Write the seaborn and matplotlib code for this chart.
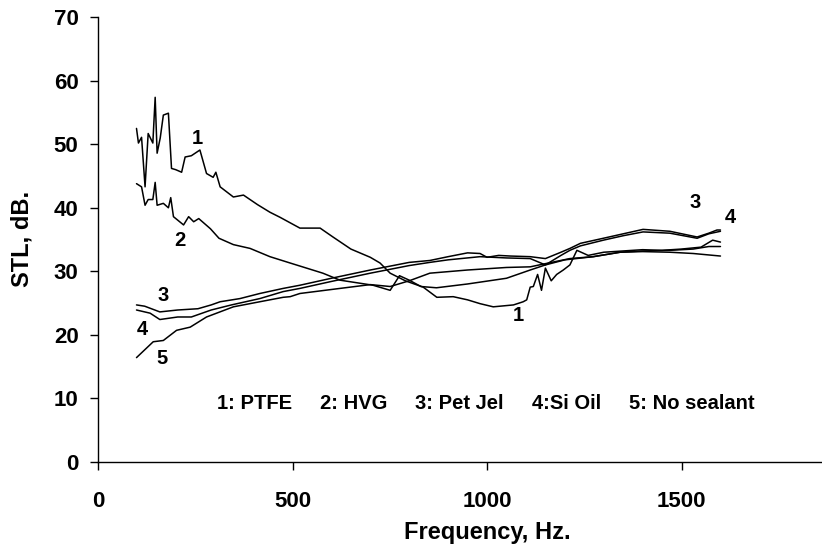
import pandas as pd
import matplotlib
matplotlib.use("Agg")
import matplotlib.pyplot as plt
import seaborn as sns

# curve data (frequency in Hz, STL in dB)
f1 = [99, 104, 112, 121, 129, 141, 147, 152, 160, 168, 181, 189, 200, 215, 224, 240, 262, 279, 296, 303,
      314, 348, 374, 410, 442, 468, 519, 571, 578, 604, 650, 700, 725, 751, 790, 836, 871, 913, 950, 982,
      1016, 1068, 1093, 1102, 1111, 1119, 1130, 1140, 1150, 1165, 1179, 1196, 1213, 1231, 1260, 1300,
      1350, 1400, 1450, 1500, 1550, 1580, 1600]
stl1 = [52.5, 50.2, 51.1, 43.3, 51.7, 50.2, 57.4, 48.6, 51.0, 54.6, 54.9, 46.2, 46.0, 45.6, 48.0, 48.2,
        49.1, 45.4, 44.8, 45.6, 43.3, 41.7, 42.0, 40.5, 39.3, 38.5, 36.8, 36.8, 36.5, 35.4, 33.5, 32.2,
        31.3, 29.7, 28.5, 27.5, 25.9, 26.0, 25.5, 24.9, 24.4, 24.7, 25.2, 25.5, 27.5, 27.6, 29.5, 27.0,
        30.5, 28.5, 29.5, 30.2, 31.0, 33.3, 32.5, 33.0, 33.2, 33.4, 33.3, 33.5, 33.8, 34.9, 34.6]

f2 = [99, 112, 121, 129, 141, 147, 152, 168, 181, 187, 194, 220, 233, 246, 259, 289, 311, 348, 391, 442,
      494, 578, 622, 707, 751, 775, 800, 830, 870, 950, 1050, 1111, 1150, 1200, 1273, 1342, 1400, 1470,
      1530, 1570, 1600]
stl2 = [43.8, 43.3, 40.4, 41.3, 41.3, 44.0, 40.4, 40.7, 40.0, 41.6, 38.6, 37.3, 38.6, 37.8, 38.3, 36.7,
        35.2, 34.2, 33.6, 32.3, 31.3, 29.7, 28.6, 27.8, 27.0, 29.3, 28.6, 27.6, 27.4, 28.0, 28.9, 30.2,
        31.0, 31.8, 32.3, 33.0, 33.2, 33.3, 33.5, 33.9, 33.9]

f3 = [99, 120, 159, 205, 257, 291, 314, 365, 416, 476, 519, 600, 700, 800, 853, 900, 950, 982, 1000,
      1030, 1060, 1111, 1150, 1190, 1213, 1240, 1299, 1350, 1401, 1470, 1540, 1570, 1591, 1600]
stl3 = [24.7, 24.5, 23.6, 23.9, 24.1, 24.7, 25.2, 25.7, 26.5, 27.3, 27.8, 28.9, 30.2, 31.4, 31.7, 32.3,
        32.9, 32.8, 32.2, 32.5, 32.4, 32.3, 32.0, 33.0, 33.6, 34.4, 35.2, 35.9, 36.6, 36.3, 35.4, 36.0,
        36.5, 36.5]

f4 = [99, 134, 159, 205, 240, 291, 343, 416, 476, 519, 600, 700, 800, 853, 900, 982, 1050, 1111, 1150,
      1190, 1213, 1240, 1299, 1350, 1401, 1470, 1540, 1570, 1600]
stl4 = [23.9, 23.4, 22.4, 22.8, 22.8, 23.9, 24.7, 25.7, 26.8, 27.3, 28.4, 29.7, 30.9, 31.4, 31.8, 32.3,
        32.1, 32.0, 31.0, 32.5, 33.3, 34.0, 34.9, 35.6, 36.2, 36.0, 35.2, 35.9, 36.3]

f5 = [99, 142, 168, 202, 237, 279, 348, 416, 476, 494, 519, 622, 700, 751, 800, 853, 950, 1050, 1111,
      1150, 1213, 1273, 1342, 1400, 1470, 1530, 1600]
stl5 = [16.4, 18.9, 19.1, 20.7, 21.2, 22.8, 24.4, 25.2, 25.9, 26.0, 26.5, 27.3, 27.9, 27.6, 28.5, 29.7,
        30.2, 30.6, 30.7, 31.2, 32.0, 32.3, 33.0, 33.1, 33.0, 32.8, 32.4]

legend_items = ["1: PTFE", "2: HVG", "3: Pet Jel", "4:Si Oil", "5: No sealant"]
legend_x = [306, 571, 815, 1116, 1365]

sns.set_style("ticks")
plt.rcParams['font.family'] = ['Liberation Sans', 'DejaVu Sans']
plt.rcParams['font.weight'] = 'bold'
plt.rcParams['text.color'] = 'black'
plt.rcParams['axes.labelcolor'] = 'black'
plt.rcParams['xtick.color'] = 'black'
plt.rcParams['ytick.color'] = 'black'

fig = plt.figure(figsize=(8.22, 5.59), dpi=100)
ax = fig.add_axes([0.1192, 0.174, 0.8808, 0.795])

for f, s in [(f1, stl1), (f2, stl2), (f3, stl3), (f4, stl4), (f5, stl5)]:
    sns.lineplot(x=f, y=s, ax=ax, color='black', linewidth=1.1, sort=False, estimator=None)

ax.set_xlim(0, 1861)
ax.set_ylim(0, 70)
ax.set_xticks([0, 500, 1000, 1500])
ax.set_yticks(range(0, 71, 10))
sns.despine(ax=ax)
ax.tick_params(axis='both', direction='out', length=6, width=1, colors='black', labelsize=16)
ax.tick_params(axis='x', pad=15)
ax.tick_params(axis='y', pad=8)
for lab in ax.get_xticklabels() + ax.get_yticklabels():
    lab.set_fontweight('bold')
for sp in ['left', 'bottom']:
    ax.spines[sp].set_linewidth(1)
    ax.spines[sp].set_color('black')

# curve numbers
tk = dict(fontsize=14.5, fontweight='bold', ha='center', va='center')
ax.text(255, 50.9, "1", **tk)
ax.text(211, 34.8, "2", **tk)
ax.text(168, 26.2, "3", **tk)
ax.text(115, 20.9, "4", **tk)
ax.text(164, 16.2, "5", **tk)
ax.text(1080, 23.1, "1", **tk)
ax.text(1535, 40.8, "3", **tk)
ax.text(1626, 38.5, "4", **tk)

for lx, lab in zip(legend_x, legend_items):
    ax.text(lx, 9.2, lab, fontsize=14.5, fontweight='bold', ha='left', va='center')

fig.text(487 / 822, 0.047, "Frequency, Hz.", fontsize=17, fontweight='bold', ha='center', va='center')
fig.text(22 / 822, 1 - 239 / 559, "STL, dB.", fontsize=17, fontweight='bold', ha='center', va='center',
         rotation=90)

fig.savefig("out.png", dpi=100)
